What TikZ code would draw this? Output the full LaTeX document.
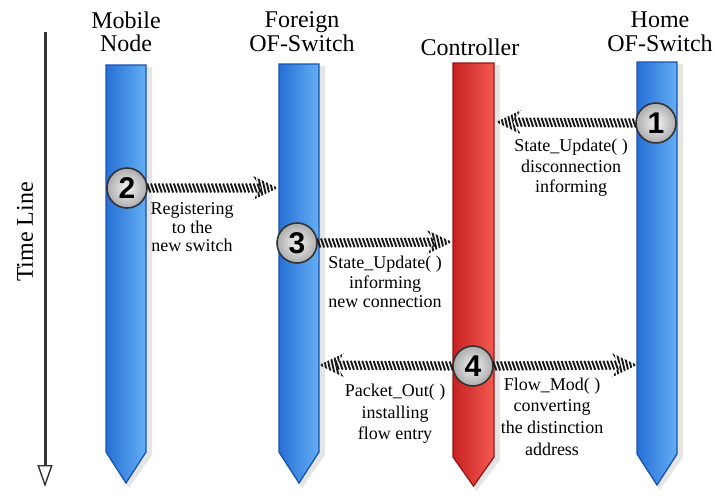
\documentclass[tikz,border=0pt]{standalone}
\usepackage{fontspec}
\setmainfont{Liberation Serif}
\newfontfamily\numfont{Liberation Sans}
\usetikzlibrary{decorations.markings,arrows.meta}
\definecolor{bdark}{RGB}{38,112,214}
\definecolor{blight}{RGB}{100,174,244}
\definecolor{bedge}{RGB}{22,82,178}
\definecolor{rdark}{RGB}{198,34,34}
\definecolor{rlight}{RGB}{244,90,80}
\definecolor{redge}{RGB}{150,20,20}
\newcommand\ropehead{%
  \begin{scope}
    \clip (1pt,0pt) -- (-24pt,12pt) -- (-16pt,0pt) -- (-24pt,-12pt) -- cycle;
    \foreach \k in {0,...,10}{\draw[line width=1.9pt,black!90] ({-30pt+\k*3.6pt},13pt) -- ({-24pt+\k*3.6pt},-13pt);}
  \end{scope}}
\newcommand\mkpillar[7]{%
  \fill[black,opacity=0.10] (#2+2,#4+2) -- (#3+6,#4+2) -- (#3+6,#5+3) -- ({(#2+#3)/2+3},#6+5) -- (#2+2,#5+3) -- cycle;
  \path[#7] (#2,#4) -- (#3,#4) -- (#3,#5) -- ({(#2+#3)/2},#6) -- (#2,#5) -- cycle;
  \coordinate (#1) at ({(#2+#3)/2},#4);}
\tikzset{
  bpillar/.style={left color=bdark, right color=blight, draw=bedge, line width=1.3pt},
  rpillar/.style={left color=rdark, right color=rlight, draw=redge, line width=1.3pt},
  numcirc/.style={circle, minimum size=40pt, inner sep=0pt, draw=black!80, line width=1.6pt,
    inner color=gray!8, outer color=gray!65, font=\numfont\bfseries\fontsize{30}{30}\selectfont},
  rope/.style={decoration={markings,
    mark=between positions 1pt and -17pt step 3.8pt with {\draw[line width=1.9pt,black!90] (-1.6pt,4.5pt) -- (1.6pt,-4.5pt);},
    mark=at position 1 with {\ropehead}}, postaction={decorate}},
  title/.style={align=center, inner sep=0pt, font=\fontsize{24}{23.4}\selectfont},
  lbl/.style={align=center, inner sep=0pt},
}
\begin{document}
\begin{tikzpicture}[x=1pt,y=-1pt]
\useasboundingbox (0,0) rectangle (715,499);
% time line
\coordinate (tl0) at (45,32);
\coordinate (tl1) at (45,487);
\draw[line width=3pt, black!80, -{Triangle[open, length=22pt, width=15pt, line width=1.4pt]}] (tl0) -- (tl1);
\node[rotate=90, inner sep=0pt, font=\fontsize{24}{24}\selectfont] (tltext) at (25,232) {Time Line};
% pillars
\mkpillar{pm}{106}{146}{65}{452}{483}{bpillar}
\mkpillar{pf}{279}{319}{64}{452}{483}{bpillar}
\mkpillar{pc}{453}{494}{63}{457}{486}{rpillar}
\mkpillar{ph}{637}{677}{62}{454}{485}{bpillar}
% titles
\node[title] (tm) at (126,31.8) {Mobile\\Node};
\node[title] (tf) at (302,31.8) {Foreign\\OF-Switch};
\node[title] (tc) at (470,46.8) {Controller};
\node[title] (th) at (660,31.8) {Home\\OF-Switch};
% circles
\node[numcirc] (c1) at (656,123) {1};
\node[numcirc] (c2) at (127,188) {2};
\node[numcirc] (c3) at (297,243) {3};
\node[numcirc] (c4) at (473,366) {4};
% arrow ends
\coordinate (e1) at (497,122);
\coordinate (e2) at (277,188);
\coordinate (e3) at (451,242);
\coordinate (e4l) at (320,365);
\coordinate (e4r) at (636,365);
\path[rope] (c1.west) -- (e1);
\path[rope] (c2.east) -- (e2);
\path[rope] (c3.east) -- (e3);
\path[rope] (c4.west) -- (e4l);
\path[rope] (c4.east) -- (e4r);
% labels
\node[lbl, font=\fontsize{18}{20.6}\selectfont] (l1) at (571,168) {State\_Update( )\\disconnection\\informing};
\node[lbl, font=\fontsize{18}{18.6}\selectfont] (l2) at (192,227.4) {Registering\\to the\\new switch};
\node[lbl, font=\fontsize{18}{19.3}\selectfont] (l3) at (385,282) {State\_Update( )\\informing\\new connection};
\node[lbl, font=\fontsize{18}{21.6}\selectfont] (l4) at (395,414) {Packet\_Out( )\\installing\\flow entry};
\node[lbl, font=\fontsize{18}{21.7}\selectfont] (l5) at (552,416.4) {Flow\_Mod( )\\converting\\the distinction\\address};
\end{tikzpicture}
\end{document}
